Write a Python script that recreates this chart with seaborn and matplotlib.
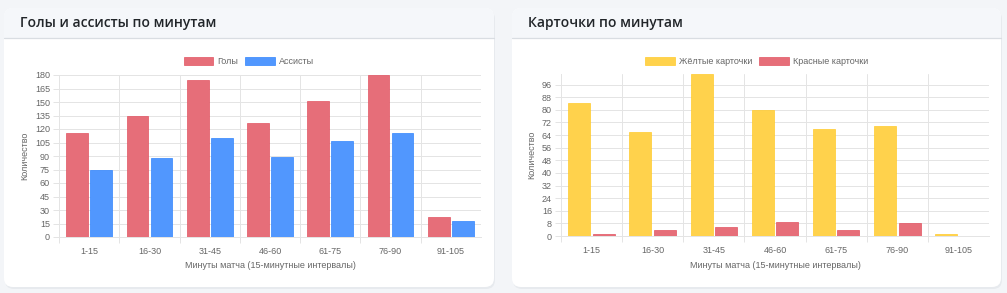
import numpy as np
import pandas as pd
import matplotlib
matplotlib.use("Agg")
import matplotlib.pyplot as plt
import seaborn as sns
from matplotlib.patches import FancyBboxPatch, Rectangle, Patch

# ---------------- data ----------------
intervals = ["1-15", "16-30", "31-45", "46-60", "61-75", "76-90", "91-105"]
goals = [116, 134, 174, 127, 151, 180, 22]
assists = [75, 88, 110, 89, 107, 116, 18]
yellow_cards = [84, 66, 103, 80, 68, 70, 1]
red_cards = [1, 4, 6, 9, 4, 8, 0]

left_title = "Голы и ассисты по минутам"
right_title = "Карточки по минутам"
left_series = ["Голы", "Ассисты"]
right_series = ["Жёлтые карточки", "Красные карточки"]
x_title = "Минуты матча (15-минутные интервалы)"
y_title = "Количество"
left_yticks = list(range(0, 181, 15))
right_yticks = list(range(0, 97, 8))

# ---------------- style ----------------
sns.set_theme(style="white")
plt.rcParams["font.family"] = ["Liberation Sans", "DejaVu Sans"]

W, H = 1007, 293
fig = plt.figure(figsize=(W / 100, H / 100), dpi=100)
fig.patch.set_facecolor("#f3f5f8")

HEADER = "#f5f7fa"
GRID = "#e4e4e4"
TICK = "#666666"


def fx(px):
    return px / W


def fy(py):
    return 1 - py / H


# background cards
bg = fig.add_axes([0, 0, 1, 1], zorder=0)
bg.set_xlim(0, W)
bg.set_ylim(H, 0)
bg.axis("off")


def card(x0, x1, y0, y1, hdr):
    bg.add_patch(FancyBboxPatch((x0 + 1, y0 + 2), x1 - x0, y1 - y0,
                                boxstyle="round,pad=0,rounding_size=9",
                                fc="#dfe3e8", ec="none", alpha=0.6))
    bg.add_patch(FancyBboxPatch((x0, y0), x1 - x0, y1 - y0,
                                boxstyle="round,pad=0,rounding_size=9",
                                fc="white", ec="none"))
    bg.add_patch(FancyBboxPatch((x0, y0), x1 - x0, 40,
                                boxstyle="round,pad=0,rounding_size=9",
                                fc=HEADER, ec="none"))
    bg.add_patch(Rectangle((x0, hdr), x1 - x0, 20, fc="white", ec="none"))
    bg.plot([x0, x1], [hdr, hdr], color="#d9dde2", lw=0.9)


card(4, 494, 8, 287, 37.5)
card(512, 1001, 8, 287, 37.5)


def blend(rgb, a):
    return tuple((c * a + 255 * (1 - a)) / 255 for c in rgb)


RED = (220, 53, 69)
BLUE = (13, 110, 253)
YEL = (255, 193, 7)


def chart(box, a, b, names, rgbs, ymax, yticks):
    x0, x1, ytop, ybot = box
    ax = fig.add_axes([fx(x0), fy(ybot), fx(x1 - x0), (ybot - ytop) / H], zorder=2)
    ax.set_facecolor("none")
    df = pd.DataFrame({
        "interval": intervals * 2,
        "value": list(a) + list(b),
        "series": [names[0]] * len(intervals) + [names[1]] * len(intervals),
    })
    sns.barplot(data=df, x="interval", y="value", hue="series",
                palette=[blend(c, 0.72) for c in rgbs], saturation=1,
                width=0.8, gap=0.1, linewidth=0.5, ax=ax, legend=False, zorder=3)
    for cont, rgb in zip(ax.containers, rgbs):
        for p in cont:
            p.set_edgecolor(blend(rgb, 0.85))
    ax.set_xlim(-0.5, len(intervals) - 0.5)
    ax.set_ylim(0, ymax)
    ax.set_yticks(yticks)
    ax.set_xticks(range(len(intervals)))
    ax.set_xticklabels(intervals)
    ax.set_xticks(np.arange(-0.5, len(intervals) - 1), minor=True)
    ax.yaxis.grid(True, color=GRID, lw=0.72, zorder=0)
    ax.xaxis.grid(True, which="minor", color=GRID, lw=0.72, zorder=0)
    ax.xaxis.grid(False, which="major")
    ax.set_axisbelow(True)
    for s in ["top", "right"]:
        ax.spines[s].set_visible(False)
    for s in ["left", "bottom"]:
        ax.spines[s].set_color(GRID)
        ax.spines[s].set_linewidth(0.72)
    ax.tick_params(axis="x", which="major", length=0, pad=7.5,
                   labelsize=6.5, labelcolor=TICK)
    ax.tick_params(axis="x", which="minor", length=4, width=0.72,
                   color=GRID, bottom=True)
    ax.tick_params(axis="y", length=4, width=0.72, color=GRID, pad=2.5,
                   labelsize=6.5, labelcolor=TICK, left=True)
    ax.set_xlabel("")
    ax.set_ylabel("")
    return ax


axL = chart((59, 481, 75, 237), goals, assists, left_series, [RED, BLUE],
            180, left_yticks)
axR = chart((561, 989, 73.5, 236), yellow_cards, red_cards, right_series,
            [YEL, RED], 103, right_yticks)

# titles
for x, t in [(20, left_title), (528, right_title)]:
    fig.text(fx(x), fy(22.5), t, fontsize=10, fontweight="semibold",
             family=["Open Sans", "DejaVu Sans"], color="#212529",
             va="center", ha="left")

# axis titles
fig.text(fx(270), fy(266), x_title, fontsize=6.5, color=TICK, ha="center", va="center")
fig.text(fx(775), fy(266), x_title, fontsize=6.5, color=TICK, ha="center", va="center")
fig.text(fx(24.5), fy(156), y_title, fontsize=6.5, color=TICK, ha="center",
         va="center", rotation=90)
fig.text(fx(531.5), fy(155), y_title, fontsize=6.5, color=TICK, ha="center",
         va="center", rotation=90)

# legends
for cx, names, rgbs in [
    (249, left_series, [RED, BLUE]),
    (756.5, right_series, [YEL, RED]),
]:
    handles = [Patch(facecolor=blend(c, 0.72), edgecolor=blend(c, 0.85), lw=0.5)
               for c in rgbs]
    fig.legend(handles, names, loc="center", bbox_to_anchor=(fx(cx), fy(61.5)),
               ncol=2, frameon=False, fontsize=6.5, labelcolor=TICK,
               handlelength=3.3, handleheight=1.0, handletextpad=0.45,
               columnspacing=0.8, borderpad=0, borderaxespad=0)

fig.savefig("out.png", dpi=100, facecolor=fig.get_facecolor())
